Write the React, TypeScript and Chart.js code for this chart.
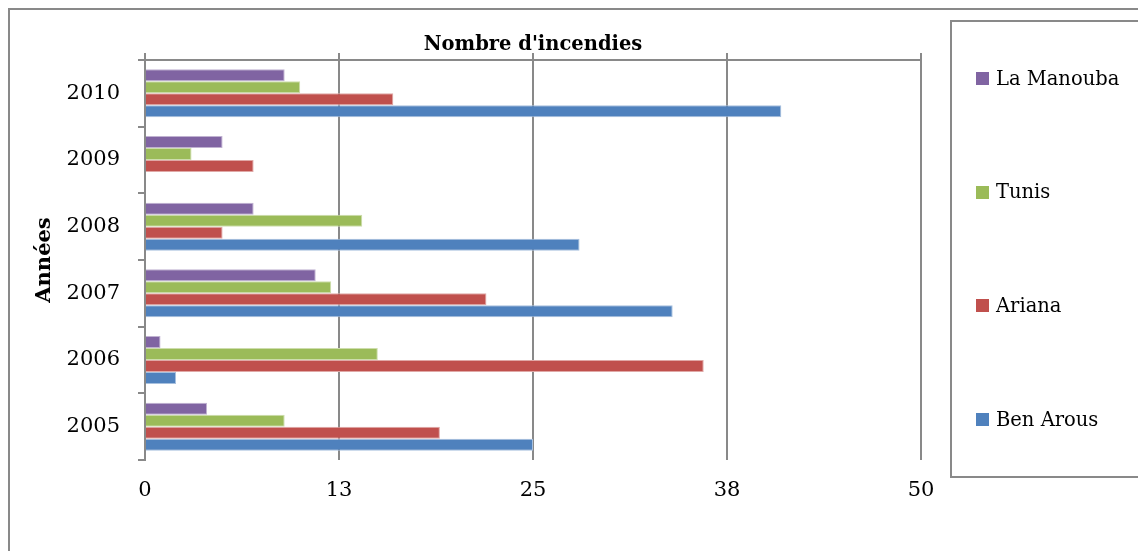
import React, { useEffect, useRef } from 'react';
import { Chart, registerables } from 'chart.js';

Chart.register(...registerables);

// Data (top-to-bottom display order)
const categories = ['2010', '2009', '2008', '2007', '2006', '2005'];
const laManouba = [9, 5, 7, 11, 1, 4];
const tunis = [10, 3, 14, 12, 15, 9];
const ariana = [16, 7, 5, 22, 36, 19];
const benArous = [41, 0, 28, 34, 2, 25];
const seriesNames = ['La Manouba', 'Tunis', 'Ariana', 'Ben Arous'];
const seriesColors = ['#8064A2', '#9BBB59', '#C0504D', '#4F81BD'];
const seriesEdges = ['#C0B2D1', '#CDDDAC', '#E0A8A6', '#A7C0DE'];
const xMin = 0;
const xMax = 50;
const xStep = 12.5;
const chartTitle = "Nombre d'incendies";
const yTitle = 'Années';

const GRAY = '#898989';
const FONT = "'DejaVu Serif', serif";

const framePlugin = {
  id: 'frame',
  beforeDraw(chart: any) {
    const ctx = chart.ctx;
    ctx.save();
    ctx.fillStyle = '#fff';
    ctx.fillRect(0, 0, chart.width, chart.height);
    ctx.strokeStyle = GRAY;
    ctx.lineWidth = 2;
    ctx.strokeRect(9, 9, 1300, 700);
    ctx.restore();
  },
  afterDraw(chart: any) {
    const ctx = chart.ctx;
    ctx.save();
    ctx.strokeStyle = GRAY;
    ctx.lineWidth = 2;
    ctx.strokeRect(951, 21, 400, 456);
    const ds = chart.data.datasets;
    const top = 78.5;
    const gap = 113.7;
    ctx.font = `19.5px ${FONT}`;
    ctx.textBaseline = 'middle';
    ctx.textAlign = 'left';
    ds.forEach((d: any, i: number) => {
      const cy = top + i * gap;
      ctx.fillStyle = d.backgroundColor;
      ctx.fillRect(976, Math.round(cy - 6.5), 13, 13);
      ctx.fillStyle = '#000';
      ctx.fillText(d.label, 996, cy + 1);
    });
    ctx.restore();
  },
};

export default function App() {
  const ref = useRef<HTMLCanvasElement>(null);
  useEffect(() => {
    const values = [laManouba, tunis, ariana, benArous];
    const chart = new Chart(ref.current!, {
      type: 'bar',
      data: {
        labels: categories,
        datasets: values.map((v, i) => ({
          label: seriesNames[i],
          data: v,
          backgroundColor: seriesColors[i],
          borderColor: seriesEdges[i],
          borderWidth: 1,
          borderSkipped: 'start',
          categoryPercentage: 0.72,
          barPercentage: 1,
        })),
      },
      options: {
        indexAxis: 'y',
        animation: false,
        responsive: false,
        font: { family: FONT },
        layout: { padding: { left: 0, right: 217, top: 0, bottom: 41 } },
        plugins: {
          legend: { display: false },
          tooltip: { enabled: false },
          title: {
            display: true,
            text: chartTitle,
            fullSize: false,
            color: '#000',
            font: { family: FONT, size: 19.5, weight: 'bold', lineHeight: 1 },
            padding: { top: 35, bottom: 0 },
          },
        },
        scales: {
          x: {
            type: 'linear',
            position: 'bottom',
            min: xMin,
            max: xMax,
            ticks: {
              stepSize: xStep,
              callback: (v: any) => String(Math.round(Number(v))),
              padding: 18,
              color: '#000',
              font: { family: FONT, size: 21 },
            },
            grid: { color: GRAY, lineWidth: 2, drawTicks: false },
            border: { display: false },
            afterFit: (s: any) => {
              s.height = 50;
            },
          },
          x2: {
            type: 'linear',
            position: 'top',
            min: xMin,
            max: xMax,
            ticks: { stepSize: xStep, display: false },
            grid: { drawOnChartArea: false, color: GRAY, lineWidth: 2, tickLength: 7 },
            border: { display: false },
            afterFit: (s: any) => {
              s.height = 5.5;
            },
          },
          y: {
            type: 'category',
            position: 'left',
            ticks: { padding: 18, color: '#000', font: { family: FONT, size: 21 } },
            grid: {
              offset: true,
              color: (c: any) => (c.index === 0 ? GRAY : 'rgba(0,0,0,0)'),
              tickColor: GRAY,
              lineWidth: 2,
              tickLength: 7,
            },
            border: { display: true, color: GRAY, width: 2 },
            title: {
              display: true,
              text: yTitle,
              color: '#000',
              font: { family: FONT, size: 21, weight: 'bold' },
              padding: { top: 32, bottom: 0 },
            },
            afterFit: (s: any) => {
              s.width = 145;
            },
          },
        },
      } as any,
      plugins: [framePlugin],
    });
    return () => chart.destroy();
  }, []);
  return (
    <div style={{ position: 'absolute', left: 0, top: 0, width: 1138, height: 551, background: '#fff' }}>
      <canvas ref={ref} width={1138} height={551} style={{ display: 'block' }} />
    </div>
  );
}
